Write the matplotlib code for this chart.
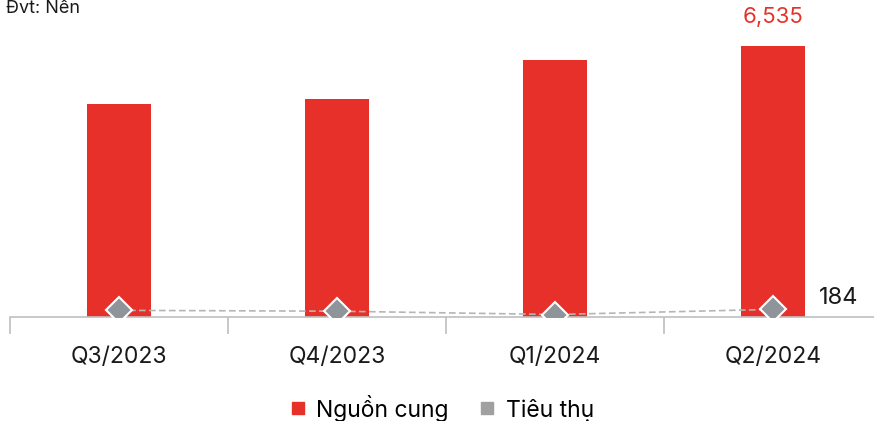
import matplotlib
matplotlib.use("Agg")
import matplotlib.pyplot as plt
import numpy as np

categories = ["Q3/2023", "Q4/2023", "Q1/2024", "Q2/2024"]
nguon_cung = [5136, 5256, 6197, 6535]
tieu_thu = [160, 140, 60, 184]
unit_label = "Đvt: Nền"
legend_labels = ["Nguồn cung", "Tiêu thụ"]

plt.rcParams['font.family'] = ['Inter', 'DejaVu Sans']

RED = "#E8302A"
GRAY = "#8F949A"

fig = plt.figure(figsize=(8.74, 4.21), dpi=100)
W, H = 874, 421
ax = fig.add_axes([10 / W, (H - 317) / H, 864 / W, 317 / H])

x = np.arange(len(categories))
ax.bar(x, nguon_cung, width=0.29, color=RED, zorder=2)
ax.plot(x, tieu_thu, linestyle=(0, (4, 2)), color="#B5B5B5", linewidth=1.2, zorder=3)
ax.plot(x, tieu_thu, linestyle="none", marker="D", markersize=13,
        markerfacecolor=GRAY, markeredgecolor="white", markeredgewidth=1.5, zorder=4)

ax.set_xlim(-0.5, -0.5 + 864 / 218)
ax.set_ylim(0, 317 * 24.11)

for s in ["top", "right", "left"]:
    ax.spines[s].set_visible(False)
ax.spines["bottom"].set_color("#BFBFBF")
ax.spines["bottom"].set_linewidth(1.2)
ax.set_yticks([])
ax.set_xticks(x)
ax.set_xticklabels(categories, fontsize=16.5, color="#1a1a1a")
ax.tick_params(axis="x", which="major", length=0, pad=21)
ax.set_xticks(np.arange(len(categories)) - 0.5, minor=True)
ax.tick_params(axis="x", which="minor", length=12, color="#BFBFBF", width=1.2)

ax.annotate(f"{nguon_cung[-1]:,}", (x[-1], nguon_cung[-1]), xytext=(0, 14),
            textcoords="offset points", ha="center", va="bottom",
            fontsize=16, color=RED)
ax.annotate(f"{tieu_thu[-1]}", (x[-1], tieu_thu[-1]), xytext=(33, 8),
            textcoords="offset points", ha="left", va="center",
            fontsize=17, color="#1a1a1a")

fig.text(6 / W, 1.0, unit_label, ha="left", va="top", fontsize=13, color="#1a1a1a")

from matplotlib.lines import Line2D
handles = [Line2D([], [], linestyle="none", marker="s", markersize=9, color=RED),
           Line2D([], [], linestyle="none", marker="s", markersize=9, color="#A0A0A0")]
fig.legend(handles, legend_labels, loc="center", bbox_to_anchor=(440 / W, 1 - 408 / H),
           ncol=2, frameon=False, fontsize=16.5, handletextpad=0.3, columnspacing=1.2,
           handlelength=1.0)

fig.savefig("out.png", dpi=100)
